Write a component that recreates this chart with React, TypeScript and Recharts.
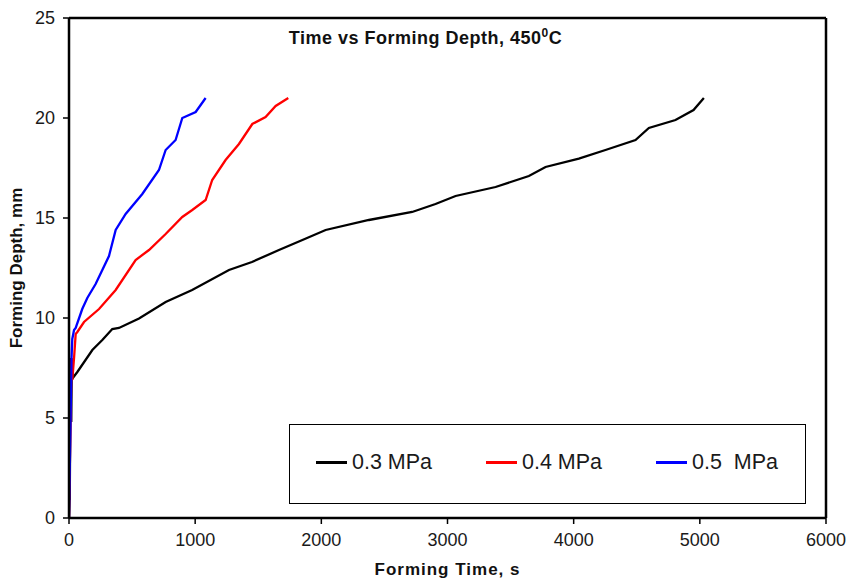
import React from "react";
import { Line, LineChart, ReferenceLine, XAxis, YAxis } from "recharts";

// forming time (s) and depth (mm) for each pressure
const time03 = [0, 4, 6, 10, 14, 18, 22, 30, 66, 185, 264, 343, 396, 555, 766, 976, 1268, 1450, 1664, 1850, 2034, 2377, 2720, 2905, 3064, 3381, 3645, 3777, 4041, 4252, 4490, 4596, 4807, 4950, 5032];
const depth03 = [0, 1, 0.9, 5, 8, 4.8, 7.9, 7.0, 7.3, 8.4, 8.9, 9.45, 9.5, 9.97, 10.8, 11.4, 12.4, 12.8, 13.4, 13.9, 14.4, 14.9, 15.3, 15.7, 16.1, 16.55, 17.1, 17.55, 17.97, 18.4, 18.9, 19.5, 19.9, 20.4, 21.0];

const time04 = [0, 20, 26, 40, 53, 66, 119, 238, 370, 528, 634, 766, 898, 977, 1083, 1135, 1241, 1347, 1453, 1558, 1638, 1738];
const depth04 = [0, 8, 6.9, 8, 9.2, 9.3, 9.8, 10.45, 11.4, 12.9, 13.4, 14.2, 15.05, 15.4, 15.9, 16.9, 17.9, 18.7, 19.7, 20.05, 20.6, 21.0];

const time05 = [0, 10, 20, 26, 40, 53, 105, 145, 211, 264, 317, 370, 449, 581, 713, 766, 845, 898, 1004, 1083];
const depth05 = [0, 4, 8, 8.95, 9.4, 9.5, 10.45, 11.0, 11.7, 12.4, 13.1, 14.4, 15.2, 16.2, 17.4, 18.4, 18.9, 20.0, 20.3, 21.0];

const xTicks = [0, 1000, 2000, 3000, 4000, 5000, 6000];
const yTicks = [0, 5, 10, 15, 20, 25];

const toPoints = (t: number[], d: number[]) =>
  t.map((time, i) => ({ time, depth: d[i] }));

const series = [
  { name: "0.3 MPa", color: "#000000", data: toPoints(time03, depth03) },
  { name: "0.4 MPa", color: "#ff0000", data: toPoints(time04, depth04) },
  { name: "0.5  MPa", color: "#0000ff", data: toPoints(time05, depth05) },
];

const font = "'Liberation Sans', Arial, sans-serif";
const tickStyle = { fontSize: 18, fill: "#1a1a1a", fontFamily: font };

export default function App() {
  return (
    <div
      style={{
        position: "absolute",
        left: 0,
        top: 0,
        width: 851,
        height: 582,
        background: "#fff",
        fontFamily: font,
      }}
    >
      <LineChart
        width={851}
        height={582}
        margin={{ top: 18, right: 25, left: 0, bottom: 0 }}
      >
        <XAxis
          dataKey="time"
          type="number"
          domain={[0, 6000]}
          ticks={xTicks}
          height={64}
          tickSize={6}
          tickMargin={9}
          tick={tickStyle}
          axisLine={{ stroke: "#000", strokeWidth: 2.5 }}
          tickLine={{ stroke: "#000", strokeWidth: 1.5 }}
          allowDataOverflow
          label={{
            content: ({ viewBox }: any) => (
              <text
                x={viewBox.x + viewBox.width / 2}
                y={575}
                textAnchor="middle"
                fontFamily={font}
                fontWeight="bold"
                fontSize={17}
                letterSpacing={1}
                fill="#111"
              >
                Forming Time, s
              </text>
            ),
          }}
        />
        <YAxis
          type="number"
          domain={[0, 25]}
          ticks={yTicks}
          width={69}
          tickSize={6}
          tickMargin={8}
          tick={tickStyle}
          axisLine={{ stroke: "#000", strokeWidth: 2.5 }}
          tickLine={{ stroke: "#000", strokeWidth: 1.5 }}
          label={{
            content: ({ viewBox }: any) => {
              const cy = viewBox.y + viewBox.height / 2;
              return (
                <text
                  x={22}
                  y={cy}
                  transform={`rotate(-90 22 ${cy})`}
                  textAnchor="middle"
                  fontFamily={font}
                  fontWeight="bold"
                  fontSize={17}
                  fill="#111"
                >
                  Forming Depth, mm
                </text>
              );
            },
          }}
        />
        <ReferenceLine y={25} stroke="#000" strokeWidth={2.5} />
        <ReferenceLine x={6000} stroke="#000" strokeWidth={2.5} />
        {series.map((s) => (
          <Line
            key={s.name}
            data={s.data}
            dataKey="depth"
            name={s.name}
            type="linear"
            stroke={s.color}
            strokeWidth={2.3}
            dot={false}
            isAnimationActive={false}
          />
        ))}
      </LineChart>

      <div
        style={{
          position: "absolute",
          left: 0,
          width: 851,
          top: 23,
          textAlign: "center",
          fontWeight: "bold",
          fontSize: 18,
          letterSpacing: 0.5,
          color: "#111",
          lineHeight: "20px",
        }}
      >
        Time vs Forming Depth, 450
        <sup style={{ fontSize: 12 }}>0</sup>C
      </div>

      <div
        style={{
          position: "absolute",
          left: 289,
          top: 424,
          width: 517,
          height: 80,
          border: "1.5px solid #000",
          boxSizing: "border-box",
          background: "#fff",
        }}
      >
        {series.map((s, i) => (
          <div
            key={s.name}
            style={{
              position: "absolute",
              left: 26 + i * 170,
              top: 25,
              display: "flex",
              alignItems: "center",
              fontSize: 21.5,
              color: "#1a1a1a",
              whiteSpace: "pre",
            }}
          >
            <span
              style={{
                display: "inline-block",
                width: 31,
                height: 2.5,
                background: s.color,
                marginRight: 5,
              }}
            />
            {s.name}
          </div>
        ))}
      </div>
    </div>
  );
}
